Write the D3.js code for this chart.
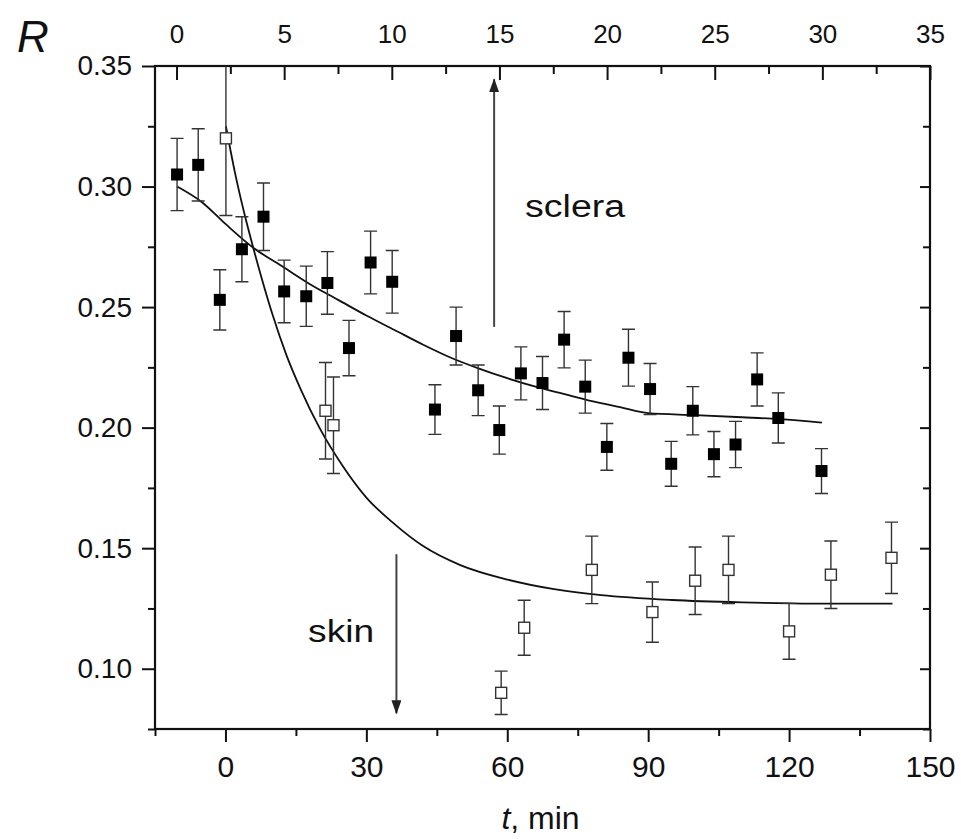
<!DOCTYPE html>
<html>
<head>
<meta charset="utf-8">
<script src="https://cdn.jsdelivr.net/npm/d3@7"></script>
<style>
  body { margin: 0; background: #fff; }
  text { font-family: "Liberation Sans", Arial, sans-serif; fill: #111; }
</style>
</head>
<body>
<script>
// sclera (filled squares)
const scleraT = [-10.3, -5.8, -1.2, 3.5, 8.1, 12.5, 17.2, 21.7, 26.3, 30.9, 35.5, 44.6, 49.1, 53.8, 58.3,
  62.9, 67.5, 72.1, 76.6, 81.2, 85.8, 90.4, 94.9, 99.5, 104.0, 108.6, 113.2, 117.7, 126.9]
const scleraR = [0.305, 0.309, 0.253, 0.274, 0.2875, 0.2565, 0.2545, 0.260, 0.233, 0.2685, 0.2605, 0.2075, 0.238, 0.2155, 0.199,
  0.2225, 0.2185, 0.2365, 0.217, 0.192, 0.229, 0.216, 0.185, 0.207, 0.189, 0.193, 0.220, 0.204, 0.182]
const scleraErr = [0.015, 0.015, 0.0125, 0.0135, 0.014, 0.013, 0.0125, 0.013, 0.0115, 0.013, 0.013, 0.0103, 0.012, 0.0105, 0.010,
  0.011, 0.011, 0.0117, 0.011, 0.0097, 0.0118, 0.0106, 0.0093, 0.010, 0.0094, 0.0096, 0.011, 0.0104, 0.0093]

// skin (open squares)
const skinT = [0.1, 21.3, 23.0, 58.7, 63.6, 78.0, 90.9, 100.0, 107.1, 120.0, 128.9, 141.8]
const skinR = [0.320, 0.207, 0.201, 0.090, 0.117, 0.141, 0.1235, 0.1365, 0.141, 0.1155, 0.139, 0.146]
const skinErr = [0.032, 0.020, 0.020, 0.009, 0.0114, 0.014, 0.0125, 0.014, 0.014, 0.0116, 0.014, 0.0148]

// fitted curves
const scleraFitT = [-10.3, -5, 0, 6, 12, 18, 24, 30, 36, 42, 48, 54, 60, 66, 72, 78, 84, 90, 100, 110, 118, 127]
const scleraFitR = [0.300, 0.2935, 0.2845, 0.2745, 0.267, 0.2595, 0.253, 0.2465, 0.2405, 0.2345, 0.229, 0.2245,
  0.2205, 0.2170, 0.2140, 0.2110, 0.2085, 0.2060, 0.2052, 0.2043, 0.2035, 0.2021]
const skinFitT = [0.1, 2, 4, 6, 8, 10, 13, 16, 20, 25, 30, 36, 42, 50, 60, 70, 80, 95, 110, 125, 142]
const skinFitR = [0.325, 0.306, 0.289, 0.274, 0.260, 0.247, 0.230, 0.216, 0.200, 0.184, 0.171, 0.160, 0.151,
  0.143, 0.137, 0.133, 0.1305, 0.1285, 0.1275, 0.127, 0.127]

// axis ticks
const xTicks = [0, 30, 60, 90, 120, 150]
const xMinor = [-15, 15, 45, 75, 105, 135]
const topTicks = [0, 5, 10, 15, 20, 25, 30, 35]
const topMinor = [2.5, 7.5, 12.5, 17.5, 22.5, 27.5, 32.5]
const yTicks = [0.10, 0.15, 0.20, 0.25, 0.30, 0.35]
const yMinor = [0.075, 0.125, 0.175, 0.225, 0.275, 0.325]

const W = 961, H = 839
const mLeft = 155, mRight = 930, mTop = 66, mBottom = 729

const svg = d3.select("body").append("svg")
  .attr("width", W)
  .attr("height", H)

const x = d3.scaleLinear().domain([-15, 150]).range([mLeft, mRight])
const xTop = d3.scaleLinear().domain([-1, 35]).range([mLeft, mRight])
const y = d3.scaleLinear().domain([0.075, 0.35]).range([mBottom, mTop])

const defs = svg.append("defs")
defs.append("clipPath").attr("id", "plot")
  .append("rect")
  .attr("x", mLeft).attr("y", mTop)
  .attr("width", mRight - mLeft).attr("height", mBottom - mTop)

defs.append("marker")
  .attr("id", "head")
  .attr("viewBox", "0 0 14 10")
  .attr("refX", 13).attr("refY", 5)
  .attr("markerWidth", 14).attr("markerHeight", 10)
  .attr("markerUnits", "userSpaceOnUse")
  .attr("orient", "auto")
  .append("path")
  .attr("d", "M0,0 L14,5 L0,10 Z")
  .attr("fill", "#222")

// axes
function styleAxis(g) {
  g.select(".domain").remove()
  g.selectAll(".tick line").attr("stroke", "#111").attr("stroke-width", 2)
}

svg.append("g")
  .attr("transform", `translate(0,${mBottom})`)
  .call(d3.axisBottom(x).tickValues(xTicks).tickSize(13).tickPadding(14))
  .call(styleAxis)
  .selectAll("text").style("font-size", "30px")

svg.append("g")
  .attr("transform", `translate(0,${mBottom})`)
  .call(d3.axisBottom(x).tickValues(xMinor).tickSize(7).tickFormat(""))
  .call(styleAxis)

svg.append("g")
  .attr("transform", `translate(0,${mTop})`)
  .call(d3.axisTop(xTop).tickValues(topTicks).tickSize(-14).tickPadding(23))
  .call(styleAxis)
  .selectAll("text").style("font-size", "26px")

svg.append("g")
  .attr("transform", `translate(0,${mTop})`)
  .call(d3.axisTop(xTop).tickValues(topMinor).tickSize(-8).tickFormat(""))
  .call(styleAxis)

svg.append("g")
  .attr("transform", `translate(${mLeft},0)`)
  .call(d3.axisLeft(y).tickValues(yTicks).tickSize(13).tickPadding(10).tickFormat(d3.format(".2f")))
  .call(styleAxis)
  .selectAll("text").style("font-size", "28px")

svg.append("g")
  .attr("transform", `translate(${mLeft},0)`)
  .call(d3.axisLeft(y).tickValues(yMinor).tickSize(7).tickFormat(""))
  .call(styleAxis)

svg.append("g")
  .attr("transform", `translate(${mRight},0)`)
  .call(d3.axisRight(y).tickValues(yTicks).tickSize(-10).tickFormat(""))
  .call(styleAxis)

svg.append("g")
  .attr("transform", `translate(${mRight},0)`)
  .call(d3.axisRight(y).tickValues(yMinor).tickSize(-7).tickFormat(""))
  .call(styleAxis)

svg.append("rect")
  .attr("x", mLeft).attr("y", mTop)
  .attr("width", mRight - mLeft).attr("height", mBottom - mTop)
  .attr("fill", "none")
  .attr("stroke", "#111")
  .attr("stroke-width", 2.2)

// axis titles
svg.append("text")
  .attr("x", 17).attr("y", 52)
  .style("font-size", "44px")
  .style("font-style", "italic")
  .text("R")

const xt = svg.append("text")
  .attr("x", (mLeft + mRight) / 2 - 2).attr("y", 829)
  .attr("text-anchor", "middle")
  .style("font-size", "32px")
xt.append("tspan").style("font-style", "italic").text("t")
xt.append("tspan").text(", min")

const plot = svg.append("g").attr("clip-path", "url(#plot)")

// fitted curves
const line = d3.line().x(d => x(d[0])).y(d => y(d[1])).curve(d3.curveMonotoneX)

plot.append("path")
  .datum(d3.zip(scleraFitT, scleraFitR))
  .attr("d", line)
  .attr("fill", "none").attr("stroke", "#111").attr("stroke-width", 1.8)

plot.append("path")
  .datum(d3.zip(skinFitT, skinFitR))
  .attr("d", line)
  .attr("fill", "none").attr("stroke", "#111").attr("stroke-width", 1.8)

// error bars + markers
function drawSeries(ts, rs, es, filled) {
  const data = d3.zip(ts, rs, es)
  const g = plot.append("g")
  const cap = 6.5
  g.selectAll(".eb").data(data).join("path")
    .attr("d", d => {
      const cx = x(d[0]), y1 = y(d[1] + d[2]), y2 = y(d[1] - d[2])
      return `M${cx},${y1}V${y2}M${cx - cap},${y1}H${cx + cap}M${cx - cap},${y2}H${cx + cap}`
    })
    .attr("fill", "none").attr("stroke", "#333").attr("stroke-width", 1.4)
  const s = filled ? 12 : 11
  g.selectAll(".pt").data(data).join("rect")
    .attr("x", d => x(d[0]) - s / 2)
    .attr("y", d => y(d[1]) - s / 2)
    .attr("width", s).attr("height", s)
    .attr("fill", filled ? "#000" : "#fff")
    .attr("stroke", filled ? "none" : "#333")
    .attr("stroke-width", 1.4)
}
drawSeries(scleraT, scleraR, scleraErr, true)
drawSeries(skinT, skinR, skinErr, false)

// arrows and labels
svg.append("line")
  .attr("x1", x(57.2)).attr("x2", x(57.2))
  .attr("y1", y(0.2418)).attr("y2", y(0.3445))
  .attr("stroke", "#444").attr("stroke-width", 2)
  .attr("marker-end", "url(#head)")

svg.append("line")
  .attr("x1", x(36.4)).attr("x2", x(36.4))
  .attr("y1", y(0.1475)).attr("y2", y(0.0815))
  .attr("stroke", "#444").attr("stroke-width", 2)
  .attr("marker-end", "url(#head)")

svg.append("text")
  .attr("x", x(63.8)).attr("y", y(0.2874))
  .style("font-size", "31px")
  .attr("textLength", 100).attr("lengthAdjust", "spacingAndGlyphs")
  .text("sclera")

svg.append("text")
  .attr("x", x(17.6)).attr("y", y(0.1112))
  .style("font-size", "32px")
  .attr("textLength", 66).attr("lengthAdjust", "spacingAndGlyphs")
  .text("skin")
</script>
</body>
</html>
